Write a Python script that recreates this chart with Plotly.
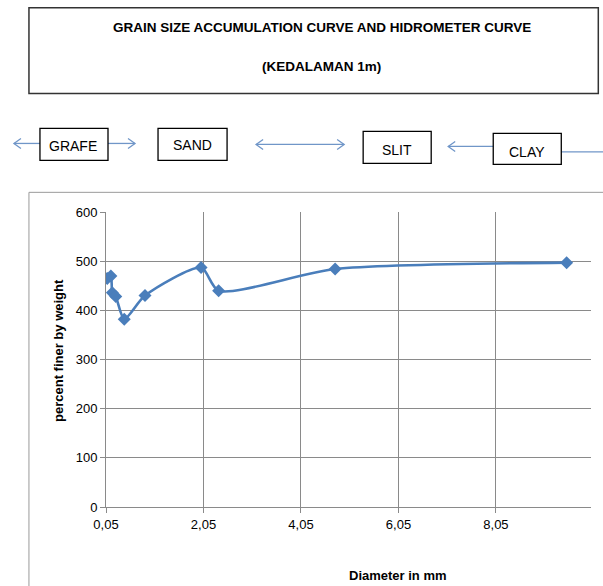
import plotly.graph_objects as go

# ---- data ----
diameter_mm = [0.075, 0.15, 0.18, 0.25, 0.425, 0.85, 2.0, 2.36, 4.75, 9.5]
percent_finer = [465, 470, 436, 428, 382, 430, 487, 440, 484, 497]
x_tick_vals = [0.05, 2.05, 4.05, 6.05, 8.05]
x_tick_text = ["0,05", "2,05", "4,05", "6,05", "8,05"]
y_tick_vals = [0, 100, 200, 300, 400, 500, 600]

W, H = 603, 586
PL, PR, PT, PB = 106, 590.7, 211.7, 507.3  # plot area pixel box

def fx(px):
    return (px - PL) / (PR - PL)

def fy(py):
    return (PB - py) / (PB - PT)

FONT = "Liberation Sans Narrow, Arial Narrow, Liberation Sans, sans-serif"
ARROW = "#7096c8"

fig = go.Figure()
fig.add_trace(go.Scatter(
    x=diameter_mm, y=percent_finer, mode="lines+markers",
    line=dict(color="#4a7ebb", width=2.6, shape="spline", smoothing=0.7),
    marker=dict(symbol="diamond", size=10, color="#4a7ebb"),
    showlegend=False, hoverinfo="skip"))

shapes = []
def rect(x0, y0, x1, y1, color="#000", width=1.3):
    shapes.append(dict(type="rect", xref="paper", yref="paper",
                       x0=fx(x0), x1=fx(x1), y0=fy(y1), y1=fy(y0),
                       line=dict(color=color, width=width), fillcolor="rgba(0,0,0,0)", layer="above"))

def seg(x0, y0, x1, y1, color=ARROW, width=1.3):
    shapes.append(dict(type="line", xref="paper", yref="paper",
                       x0=fx(x0), x1=fx(x1), y0=fy(y0), y1=fy(y1),
                       line=dict(color=color, width=width)))

def head(x, y, direction):
    d = 7 if direction == "right" else -7
    path = "M %f,%f L %f,%f L %f,%f" % (fx(x - d), fy(y - 5), fx(x), fy(y), fx(x - d), fy(y + 5))
    shapes.append(dict(type="path", xref="paper", yref="paper", path=path,
                       line=dict(color=ARROW, width=1.3)))

# chart area border
rect(29, 192, 640, 640, color="#9a9a9a", width=1)
# title box
rect(29, 7, 598, 93, color="#333333", width=1.5)

# arrows row
seg(14, 143, 40, 143); head(14, 143, "left")
seg(108, 143, 135, 143); head(135, 143, "right")
seg(256, 144, 344, 144); head(256, 144, "left"); head(344, 144, "right")
seg(448, 146, 493, 146); head(448, 146, "left")
seg(561, 151.5, 610, 151.5)

# label boxes
rect(40, 128, 108, 160)
rect(158, 128, 227, 160)
rect(363, 131, 431, 163)
rect(493, 133, 561, 164)

annotations = []
def text(x, y, s, size=13, bold=False, angle=0):
    annotations.append(dict(xref="paper", yref="paper", x=fx(x), y=fy(y), text=("<b>%s</b>" % s) if bold else s,
                            showarrow=False, xanchor="center", yanchor="middle", textangle=angle,
                            font=dict(family=FONT, size=size, color="#000")))

text(322, 27, "GRAIN SIZE ACCUMULATION CURVE AND HIDROMETER CURVE", size=13.5, bold=True)
text(321, 66, "(KEDALAMAN 1m)", size=13.5, bold=True)
text(73, 146, "GRAFE", size=14)
text(192, 145, "SAND", size=14)
text(397, 150, "SLIT", size=14)
text(527, 152, "CLAY", size=14)
text(398, 576, "Diameter in mm", size=13, bold=True)
text(58, 350, "percent finer by weight", size=13, bold=True, angle=-90)

fig.update_layout(
    width=W, height=H,
    margin=dict(l=PL, r=W - PR, t=PT, b=H - PB, pad=0),
    paper_bgcolor="white", plot_bgcolor="white",
    shapes=shapes, annotations=annotations,
    font=dict(family=FONT, size=13, color="#000"),
    xaxis=dict(range=[0.05, 10.0], tickmode="array", tickvals=x_tick_vals, ticktext=x_tick_text,
               showgrid=True, gridcolor="#8a8a8a", gridwidth=1, zeroline=False,
               showline=True, linecolor="#8a8a8a", linewidth=1, ticks="outside", ticklen=5,
               tickcolor="#8a8a8a", tickfont=dict(family=FONT, size=13, color="#000")),
    yaxis=dict(range=[0, 600], tickmode="array", tickvals=y_tick_vals,
               showgrid=True, gridcolor="#8a8a8a", gridwidth=1, zeroline=False,
               showline=True, linecolor="#8a8a8a", linewidth=1, ticks="outside", ticklen=5,
               tickcolor="#8a8a8a", tickfont=dict(family=FONT, size=13, color="#000")),
)

fig.write_html("out.html", config={"displayModeBar": False},
               post_script="document.body.style.margin='0';document.body.style.overflow='hidden';")
